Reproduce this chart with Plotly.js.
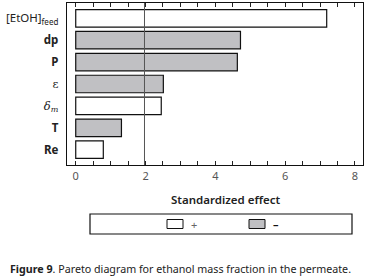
<!DOCTYPE html>
<html><head><meta charset="utf-8">
<script src="https://cdn.plot.ly/plotly-3.0.1.min.js"></script>
<style>html,body{margin:0;padding:0;background:#fff}#c{width:373px;height:277px}</style>
</head><body><div id="c"></div>
<script>
// data
const factors = [
  "<span style='font-weight:normal'>[EtOH]<sub>feed</sub></span>",
  "dp", "P",
  "<span style='font-family:DejaVu Serif, serif;font-weight:normal'>ε</span>",
  "<span style='font-family:DejaVu Serif, serif;font-weight:normal'><i>δ<sub>m</sub></i></span>",
  "T", "Re"];
const effects = [7.19, 4.72, 4.63, 2.51, 2.45, 1.31, 0.79];
const signs = ["+", "-", "-", "-", "+", "-", "+"];
const criticalT = 1.97;
const xTicks = [0, 2, 4, 6, 8];
const legendLabels = ["+", "–"];

const W = 373, H = 277;
const L = 67, R = 10, T = 3, B = 112;
const pw = W - L - R, ph = H - T - B;
const px = x => (x - L) / pw;
const py = y => (H - B - y) / ph;

const colorOf = s => s === "+" ? "#ffffff" : "#c0c0c3";

const trace = {
  type: "bar", orientation: "h",
  y: factors, x: effects,
  width: 0.8,
  marker: {color: signs.map(colorOf), line: {color: "#111", width: 1.2}},
  hoverinfo: "skip", showlegend: false
};

const font = "Noto Sans, DejaVu Sans, sans-serif";
const layout = {
  width: W, height: H,
  margin: {l: L, r: R, t: T, b: B},
  paper_bgcolor: "#fff", plot_bgcolor: "#fff",
  showlegend: false,
  font: {family: font, color: "#222"},
  xaxis: {
    range: [-0.25, 8.23], tickvals: xTicks, ticktext: xTicks.map(String),
    ticks: "inside", ticklen: 4, tickcolor: "#222", tickwidth: 1,
    minor: {dtick: 0.5, tick0: 0, ticks: "inside", ticklen: 4, tickcolor: "#222", tickwidth: 1},
    showline: true, linecolor: "#111", linewidth: 1.3, mirror: "allticks",
    showgrid: false, zeroline: false,
    tickfont: {size: 11, color: "#555", family: font}
  },
  yaxis: {
    type: "category", categoryorder: "array", categoryarray: factors,
    range: [6.7, -0.7],
    ticks: "", showline: true, linecolor: "#111", linewidth: 1.3, mirror: true,
    showgrid: false, zeroline: false,
    tickfont: {size: 11.5, color: "#222", family: font, weight: "bold"},
    ticklabelstandoff: 5
  },
  shapes: [
    {type: "line", xref: "x", yref: "paper", x0: criticalT, x1: criticalT, y0: 0, y1: 1,
     line: {color: "#555", width: 1}},
    {type: "rect", xref: "paper", yref: "paper", x0: px(90), x1: px(352), y0: py(214), y1: py(234),
     line: {color: "#111", width: 1.2}, fillcolor: "#fff"},
    {type: "rect", xref: "paper", yref: "paper", x0: px(167), x1: px(183), y0: py(219.5), y1: py(228.5),
     line: {color: "#111", width: 1}, fillcolor: colorOf("+")},
    {type: "rect", xref: "paper", yref: "paper", x0: px(249), x1: px(265), y0: py(219.5), y1: py(228.5),
     line: {color: "#111", width: 1}, fillcolor: colorOf("-")}
  ],
  annotations: [
    {xref: "paper", yref: "paper", x: px(225), y: py(199), text: "Standardized effect",
     showarrow: false, xanchor: "center", yanchor: "middle",
     font: {size: 11.5, color: "#222", family: font, weight: 600}},
    {xref: "paper", yref: "paper", x: px(189), y: py(224), text: legendLabels[0],
     showarrow: false, xanchor: "left", yanchor: "middle",
     font: {size: 11, color: "#666", family: font}},
    {xref: "paper", yref: "paper", x: px(271), y: py(224), text: "<b>" + legendLabels[1] + "</b>",
     showarrow: false, xanchor: "left", yanchor: "middle",
     font: {size: 11, color: "#111", family: font}},
    {xref: "paper", yref: "paper", x: px(8), y: py(269), text: "<b>Figure 9</b>. Pareto diagram for ethanol mass fraction in the permeate.",
     showarrow: false, xanchor: "left", yanchor: "middle",
     font: {size: 10.7, color: "#222", family: font}}
  ]
};

Plotly.newPlot("c", [trace], layout, {staticPlot: true, displayModeBar: false});
</script></body></html>
